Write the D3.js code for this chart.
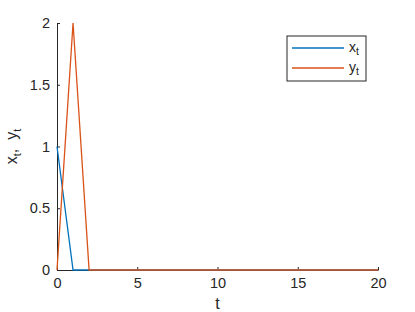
<!DOCTYPE html>
<html>
<head>
<meta charset="utf-8">
<script src="https://cdn.jsdelivr.net/npm/d3@7"></script>
<style>
  body { margin: 0; background: #fff; }
  svg { display: block; font-family: "Liberation Sans", Arial, sans-serif; }
</style>
</head>
<body>
<svg id="chart"></svg>
<script>
// data
var t  = [0, 1, 2, 3, 4, 5, 6, 7, 8, 9, 10, 11, 12, 13, 14, 15, 16, 17, 18, 19, 20];
var xt = [1, 0, 0, 0, 0, 0, 0, 0, 0, 0, 0, 0, 0, 0, 0, 0, 0, 0, 0, 0, 0];
var yt = [0, 2, 0, 0, 0, 0, 0, 0, 0, 0, 0, 0, 0, 0, 0, 0, 0, 0, 0, 0, 0];
var xTicks = [0, 5, 10, 15, 20];
var yTicks = [0, 0.5, 1, 1.5, 2];
var seriesNames = ["x", "y"];
var colors = ["#0072BD", "#D95319"];

var W = 415, H = 312;
var margin = { top: 23, right: 37, bottom: 42, left: 57 };
var width = W - margin.left - margin.right,
    height = H - margin.top - margin.bottom;
var textColor = "#262626";

var svg = d3.select("#chart")
    .attr("width", W)
    .attr("height", H)
    .append("g")
    .attr("transform", "translate(" + margin.left + "," + margin.top + ")");

var x = d3.scaleLinear().domain([0, 20]).range([0, width]);
var y = d3.scaleLinear().domain([0, 2]).range([height, 0]);

var xAxis = d3.axisBottom(x)
    .tickValues(xTicks)
    .tickFormat(d3.format("d"))
    .tickSizeInner(-3)
    .tickSizeOuter(0)
    .tickPadding(8);

var yAxis = d3.axisLeft(y)
    .tickValues(yTicks)
    .tickFormat(d => d)
    .tickSizeInner(-3)
    .tickSizeOuter(0)
    .tickPadding(7);

var gx = svg.append("g")
    .attr("transform", "translate(0," + height + ")")
    .call(xAxis);
var gy = svg.append("g").call(yAxis);

[gx, gy].forEach(function (g) {
    g.selectAll("path, line").attr("stroke", textColor).attr("stroke-width", 1);
    g.selectAll("text").attr("fill", textColor).attr("font-size", "14.5px")
        .attr("font-family", "\"Liberation Sans\", Arial, sans-serif");
});

var line = d3.line().x((d, i) => x(t[i])).y(d => y(d));

[xt, yt].forEach(function (s, k) {
    svg.append("path")
        .datum(s)
        .attr("fill", "none")
        .attr("stroke", colors[k])
        .attr("stroke-width", 1.3)
        .attr("d", line);
});

// axis labels
svg.append("text")
    .attr("x", width / 2)
    .attr("y", height + 39)
    .attr("text-anchor", "middle")
    .attr("fill", textColor)
    .attr("font-size", "16px")
    .text("t");

var yl = svg.append("text")
    .attr("transform", "translate(-40," + (height / 2) + ") rotate(-90)")
    .attr("text-anchor", "middle")
    .attr("fill", textColor)
    .attr("font-size", "16px");
yl.append("tspan").text("x");
yl.append("tspan").attr("dy", 4).attr("font-size", "11px").text("t");
yl.append("tspan").attr("dy", -4).attr("xml:space", "preserve").text(",\u00a0\u00a0y");
yl.append("tspan").attr("dy", 4).attr("font-size", "11px").text("t");

// legend
var lg = svg.append("g").attr("transform", "translate(" + (287 - margin.left) + "," + (36 - margin.top) + ")");
lg.append("rect")
    .attr("width", 79).attr("height", 45)
    .attr("fill", "#fff").attr("stroke", textColor).attr("stroke-width", 1);
seriesNames.forEach(function (n, k) {
    var row = lg.append("g").attr("transform", "translate(0," + (12 + k * 20) + ")");
    row.append("line")
        .attr("x1", 5).attr("x2", 57).attr("y1", 0).attr("y2", 0)
        .attr("stroke", colors[k]).attr("stroke-width", 1.3);
    var tx = row.append("text")
        .attr("x", 62).attr("y", 4)
        .attr("fill", textColor).attr("font-size", "14px");
    tx.append("tspan").text(n);
    tx.append("tspan").attr("dy", 3).attr("font-size", "10.5px").text("t");
});
</script>
</body>
</html>
